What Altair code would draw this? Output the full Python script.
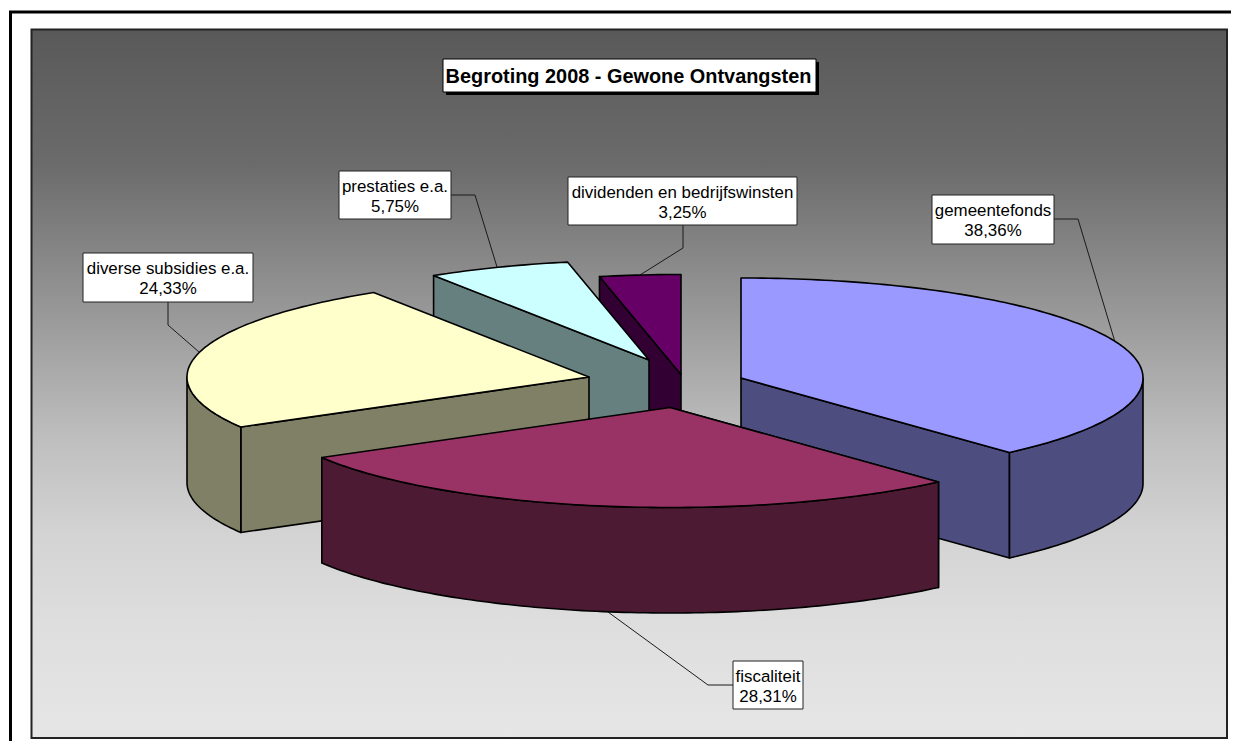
import math
import altair as alt
import pandas as pd

# ---- chart values
TITLE = "Begroting 2008 - Gewone Ontvangsten"
names = ["gemeentefonds", "fiscaliteit", "diverse subsidies e.a.", "prestaties e.a.", "dividenden en bedrijfswinsten"]
shares = [38.36, 28.31, 24.33, 5.75, 3.25]
pct_labels = ["38,36%", "28,31%", "24,33%", "5,75%", "3,25%"]

# ---- styling / layout (picture pixel space)
top_colors = ["#9999ff", "#993366", "#ffffcc", "#ccffff", "#660066"]
side_colors = ["#4d4d80", "#4d1a33", "#808066", "#668080", "#330033"]
centers = [(741, 378), (670, 407.5), (589, 377), (649, 360), (681, 374.5)]
boxes = [(932, 1054, 195, 244), (733, 803, 661, 709), (83, 253, 253, 302), (339, 451, 171, 219), (568, 797, 177, 225)]
leaders = [
    [(1054, 219), (1078, 219), (1115, 342)],
    [(733, 685), (708, 685), (608, 612)],
    [(168, 302), (168, 325), (199, 352)],
    [(451, 195), (475, 195), (497, 267)],
    [(683, 225), (683, 248), (640, 275)],
]
draw_order = [4, 3, 2, 0, 1]
RX, RY, DEPTH = 402, 100, 105.5
W, H = 1231, 741
OX, OY = 8, 8

xs = alt.Scale(domain=[OX, W], range=[0, W - OX], nice=False, zero=False)
ys = alt.Scale(domain=[OY, H], range=[0, H - OY], nice=False, zero=False)
X = lambda f: alt.X(f, type="quantitative", scale=xs, axis=None)
Y = lambda f: alt.Y(f, type="quantitative", scale=ys, axis=None)


def rim(c, deg):
    a = math.radians(deg)
    return (c[0] + RX * math.sin(a), c[1] - RY * math.cos(a))


def feature(points, color):
    ring = [list(p) for p in points]
    ring.append(ring[0])
    return {"type": "Feature", "properties": {"color": color},
            "geometry": {"type": "Polygon", "coordinates": [ring]}}


total = sum(shares)
bounds = [0.0]
for s in shares:
    bounds.append(bounds[-1] + s / total * 360.0)

features = []
for i in draw_order:
    c = centers[i]
    a0, a1 = bounds[i], bounds[i + 1]
    edge = a1 if a1 < 180 else a0
    e = rim(c, edge)
    features.append(feature([c, e, (e[0], e[1] + DEPTH), (c[0], c[1] + DEPTH)], side_colors[i]))
    lo, hi = max(a0, 90), min(a1, 270)
    if hi > lo:
        n = max(2, int(hi - lo))
        arc = [rim(c, lo + (hi - lo) * k / n) for k in range(n + 1)]
        features.append(feature(arc + [(x, y + DEPTH) for x, y in reversed(arc)], side_colors[i]))
    n = max(2, int((a1 - a0)))
    features.append(feature([c] + [rim(c, a0 + (a1 - a0) * k / n) for k in range(n + 1)], top_colors[i]))

pie = alt.Chart(alt.InlineData(values={"type": "FeatureCollection", "features": features},
                               format=alt.DataFormat(property="features", type="json"))
                ).mark_geoshape(stroke="black", strokeWidth=1.6, strokeJoin="round").encode(
    fill=alt.Fill("properties.color:N", scale=None)
).project(type="identity", scale=1, translate=[-OX, -OY])

grad_stops = [(0.0, "#595959"), (0.19, "#6b6b6b"), (0.32, "#878787"), (0.45, "#a3a3a3"),
              (0.58, "#bfbfbf"), (0.71, "#d3d3d3"), (0.84, "#dedede"), (1.0, "#e6e6e6")]
gradient = alt.Gradient(gradient="linear", x1=0, x2=0, y1=0, y2=1,
                        stops=[alt.GradientStop(color=c, offset=o) for o, c in grad_stops])
panel = alt.Chart(pd.DataFrame({"a": [31.5], "b": [1227], "c": [29.5], "d": [738]})).mark_rect(
    fill=gradient, stroke="#222222", strokeWidth=2).encode(X("a"), x2="b", y=Y("c"), y2="d")

frame = alt.Chart(pd.DataFrame({"x": [W, 10.5, 10.5], "y": [12, 12, H], "k": [0, 1, 2]})).mark_line(
    color="black", strokeWidth=3).encode(X("x"), Y("y"), order="k:Q")

leader_rows = [{"s": i, "k": k, "x": p[0], "y": p[1]} for i, pts in enumerate(leaders) for k, p in enumerate(pts)]
leader_marks = alt.Chart(pd.DataFrame(leader_rows)).mark_line(color="#1a1a1a", strokeWidth=1).encode(
    X("x"), Y("y"), detail="s:N", order="k:Q")

box_df = pd.DataFrame({"a": [b[0] for b in boxes], "b": [b[1] for b in boxes],
                       "c": [b[2] for b in boxes], "d": [b[3] for b in boxes]})
box_marks = alt.Chart(box_df).mark_rect(fill="white", stroke="#222222", strokeWidth=1).encode(
    X("a"), x2="b", y=Y("c"), y2="d")

text_rows = []
for i, b in enumerate(boxes):
    mid = (b[0] + b[1]) / 2
    text_rows.append({"x": mid, "y": b[2] + 15.5, "t": names[i]})
    text_rows.append({"x": mid, "y": b[2] + 36, "t": pct_labels[i]})
label_marks = alt.Chart(pd.DataFrame(text_rows)).mark_text(
    font="Liberation Sans", fontSize=16.9, color="black", align="center", baseline="middle").encode(
    X("x"), Y("y"), text="t:N")

tb = (443, 816, 59, 92)
title_shadow = alt.Chart(pd.DataFrame({"a": [tb[0] + 3], "b": [tb[1] + 3], "c": [tb[2] + 3], "d": [tb[3] + 3]})).mark_rect(
    fill="black").encode(X("a"), x2="b", y=Y("c"), y2="d")
title_box = alt.Chart(pd.DataFrame({"a": [tb[0]], "b": [tb[1]], "c": [tb[2]], "d": [tb[3]]})).mark_rect(
    fill="white", stroke="black", strokeWidth=1).encode(X("a"), x2="b", y=Y("c"), y2="d")
title_text = alt.Chart(pd.DataFrame({"x": [(tb[0] + tb[1]) / 2 - 1], "y": [(tb[2] + tb[3]) / 2 + 1], "t": [TITLE]})).mark_text(
    font="Liberation Sans", fontSize=19.9, fontWeight="bold", color="black", align="center", baseline="middle").encode(
    X("x"), Y("y"), text="t:N")

chart = alt.layer(frame, panel, leader_marks, pie, box_marks, label_marks, title_shadow, title_box, title_text).properties(
    width=W - OX, height=H - OY, padding=0, autosize=alt.AutoSizeParams(type="none"), background="white"
).configure_view(stroke=None).resolve_scale(x="shared", y="shared")

chart.save("out.html", embed_options={"renderer": "svg", "actions": False})
